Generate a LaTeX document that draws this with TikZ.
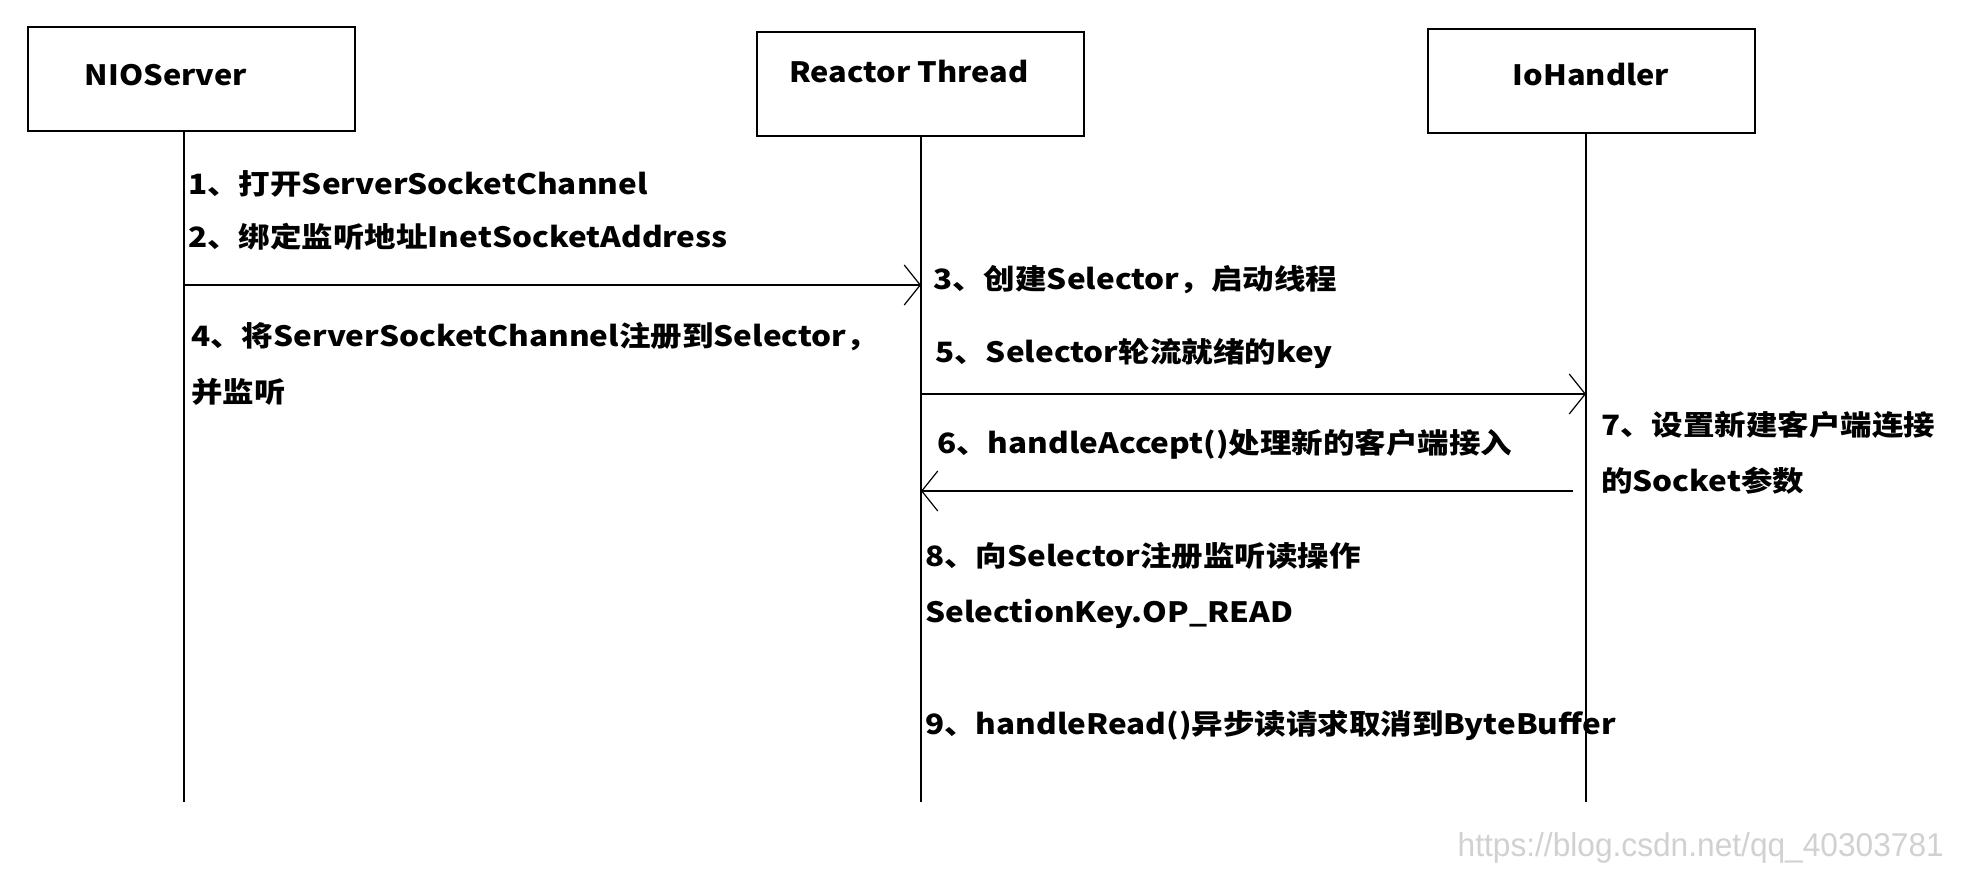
\documentclass[tikz,border=0pt]{standalone}
\usepackage{fontspec}
\usetikzlibrary{arrows.meta}
\newfontfamily\cjk{Noto Sans CJK SC}
\newfontfamily\wmfont{Liberation Sans}
\newcommand\wtxt[1]{\scalebox{1.1}[1]{#1}}
\newcommand\wlbl[1]{\scalebox{1.125}[1]{#1}}
\begin{document}
\begin{tikzpicture}[x=1pt,y=-1pt,
  actor/.style={draw,line width=2pt,minimum width=327pt,minimum height=104pt,inner sep=0pt},
  title/.style={font=\cjk\bfseries\fontsize{28}{30}\selectfont,inner sep=0pt},
  lbl/.style={font=\cjk\bfseries\fontsize{28}{30}\selectfont,anchor=west,inner sep=0pt},
  life/.style={line width=1.5pt},
  msg/.style={line width=1.8pt,-{Straight Barb[length=16pt,width=40pt,line width=1.2pt]}}]
\useasboundingbox (0,0) rectangle (1962,882);
% actor boxes
\node[actor] (nio) at (191,79) {};
\node[actor] (rt) at (920,84.5) {};
\node[actor] (ioh) at (1591,81) {};
\node[title] (nioT) at (166,75) {\wtxt{NIOServer}};
\node[title] (rtT) at (909,72) {\wtxt{Reactor Thread}};
\node[title] (iohT) at (1591,75) {\wtxt{IoHandler}};
% lifeline ends
\coordinate (nioE) at (184,802);
\coordinate (rtE) at (921,802);
\coordinate (iohE) at (1586,802);
\draw[life] (nio.south -| nioE) -- (nioE);
\draw[life] (rt.south -| rtE) -- (rtE);
\draw[life] (ioh.south -| iohE) -- (iohE);
% message anchors
\coordinate (a1s) at (184,285);
\coordinate (a1e) at (921,285);
\coordinate (a5s) at (921,394);
\coordinate (a5e) at (1586,394);
\coordinate (a6s) at (1573,491);
\coordinate (a6e) at (921,491);
\draw[msg] (a1s) -- (a1e);
\draw[msg] (a5s) -- (a5e);
\draw[msg] (a6s) -- (a6e);
% labels
\node[lbl] (t1) at (188,184) {\wlbl{1、打开ServerSocketChannel}};
\node[lbl] (t2) at (188,237) {\wlbl{2、绑定监听地址InetSocketAddress}};
\node[lbl] (t3) at (933,280) {\wlbl{3、创建Selector，启动线程}};
\node[lbl] (t4) at (191,337) {\wlbl{4、将ServerSocketChannel注册到Selector，}};
\node[lbl] (t4b) at (191,392) {\wlbl{并监听}};
\node[lbl] (t5) at (935,354) {\wlbl{5、Selector轮流就绪的key}};
\node[lbl] (t6) at (937,444) {\wlbl{6、handleAccept()处理新的客户端接入}};
\node[lbl] (t7) at (1601,425) {\wlbl{7、设置新建客户端连接}};
\node[lbl] (t7b) at (1601,481) {\wlbl{的Socket参数}};
\node[lbl] (t8) at (925,556) {\wlbl{8、向Selector注册监听读操作}};
\node[lbl] (t8b) at (925,614) {\wlbl{SelectionKey.OP\_READ}};
\node[lbl] (t9) at (925,725) {\wlbl{9、handleRead()异步读请求取消到ByteBuffer}};
% watermark
\node[font=\wmfont\fontsize{33}{35}\selectfont,text=black!18,anchor=east,inner sep=0pt] (wm) at (1944,848) {\scalebox{0.96}[1]{https://blog.csdn.net/qq\_40303781}};
\end{tikzpicture}
\end{document}
